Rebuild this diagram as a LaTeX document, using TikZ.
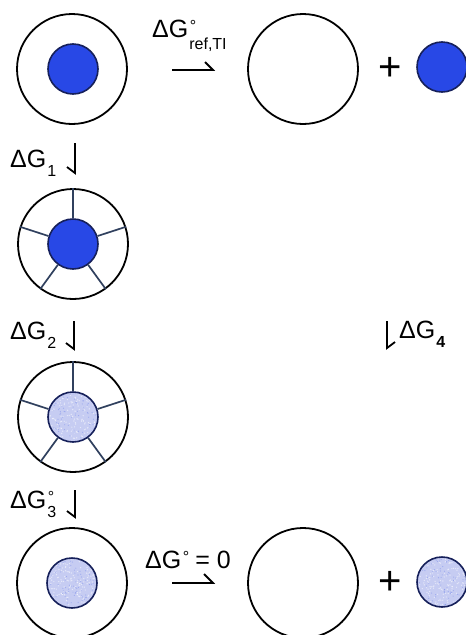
\documentclass[tikz,border=0pt]{standalone}
\usepackage{fontspec}
\setmainfont{Liberation Sans}
\usetikzlibrary{calc}
\definecolor{ionblue}{RGB}{40,72,230}
\definecolor{ionedge}{RGB}{22,32,90}
\definecolor{hydblue}{RGB}{198,204,242}
\definecolor{spokecol}{RGB}{48,64,94}
% Delta G with stacked superscript and subscript
\newcommand{\dG}[3][-9pt]{ΔG\rlap{\raisebox{6pt}{\fontsize{16}{16}\selectfont\kern1.5pt#2}}\raisebox{#1}{\fontsize{16}{16}\selectfont\kern1pt#3}}
% speckled look of the hydrated ion
\newcommand{\speckle}[1]{%
  \begin{scope}
    \clip (#1.center) circle (23.5pt);
    \foreach \i in {1,...,160}
      \fill[white, opacity=0.55] ($(#1.center)+(rand*24,rand*24)$) circle (0.7pt);
    \foreach \i in {1,...,90}
      \fill[ionblue, opacity=0.25] ($(#1.center)+(rand*24,rand*24)$) circle (0.6pt);
  \end{scope}}
\tikzset{
  ring/.style={circle, draw, line width=1.8pt, minimum size=110pt, inner sep=0pt},
  core/.style={circle, draw=ionedge, line width=1.6pt, fill=ionblue, minimum size=50pt, inner sep=0pt},
  hcore/.style={core, fill=hydblue},
  spoke/.style={draw=spokecol, line width=1.7pt},
  harp/.style={line width=1.8pt, line join=miter},
  lab/.style={font=\fontsize{25}{25}\selectfont, inner sep=0pt, anchor=base west},
  plus/.style={font=\fontsize{40}{40}\selectfont, inner sep=0pt}
}
\begin{document}
\begin{tikzpicture}[x=1pt, y=-1pt]
  \pgfmathsetseed{7}
  \useasboundingbox (0,0) rectangle (466,635);

  % === top row: bound complex -> empty host + ion ===
  \node[ring] (cav1) at (72,69) {};
  \node[core] (ion1) at (73,69) {};
  \node[lab] (lref) at (152,37) {\dG[-12pt]{°}{ref,TI}};
  \coordinate (t1a) at (172,70);
  \coordinate (t1b) at (213,70);
  \draw[harp] (t1a) -- (t1b) -- ++(-8,-8);
  \node[ring] (host1) at (303,69) {};
  \node[plus] (plus1) at (390,69) {+};
  \node[core] (free1) at (442,67) {};

  % === step 1 ===
  \node[lab] (lg1) at (10,167) {\dG{}{1}};
  \coordinate (s1a) at (75,143);
  \coordinate (s1b) at (75,173);
  \draw[harp] (s1a) -- (s1b) -- ++(-8,-6);

  % === solvated cavity, bare ion ===
  \node[ring] (cav2) at (73,244) {};
  \node[core] (ion2) at (73,244) {};
  \foreach \a in {90,18,162,234,306}
    \draw[spoke] (ion2.\a) -- (cav2.\a);

  % === step 2 ===
  \node[lab] (lg2) at (10,339) {\dG{}{2}};
  \coordinate (s2a) at (74,321);
  \coordinate (s2b) at (74,349);
  \draw[harp] (s2a) -- (s2b) -- ++(-8,-6);

  % === step 4 (right side) ===
  \coordinate (s4a) at (387,321);
  \coordinate (s4b) at (387,348);
  \draw[harp] (s4a) -- (s4b) -- ++(8,-6);
  \node[lab] (lg4) at (399,338) {\dG{}{\bfseries 4}};

  % === solvated cavity, hydrated ion ===
  \node[ring] (cav3) at (73,417) {};
  \node[hcore] (ion3) at (73,417) {};
  \speckle{ion3}
  \foreach \a in {90,18,162,234,306}
    \draw[spoke] (ion3.\a) -- (cav3.\a);

  % === step 3 ===
  \node[lab] (lg3) at (10,508) {\dG{°}{3}};
  \coordinate (s3a) at (75,490);
  \coordinate (s3b) at (75,517);
  \draw[harp] (s3a) -- (s3b) -- ++(-8,-6);

  % === bottom row: hydrated complex -> host + hydrated ion ===
  \node[ring] (cav4) at (72,583) {};
  \node[hcore] (ion4) at (72,583) {};
  \speckle{ion4}
  \node[lab] (lzero) at (145,568) {\dG{°}{}\hspace{13pt}= 0};
  \coordinate (t4a) at (172,583);
  \coordinate (t4b) at (213,583);
  \draw[harp] (t4a) -- (t4b) -- ++(-9,-9);
  \node[ring] (host4) at (303,583) {};
  \node[plus] (plus4) at (390,583) {+};
  \node[hcore] (free4) at (442,582) {};
  \speckle{free4}
\end{tikzpicture}
\end{document}
